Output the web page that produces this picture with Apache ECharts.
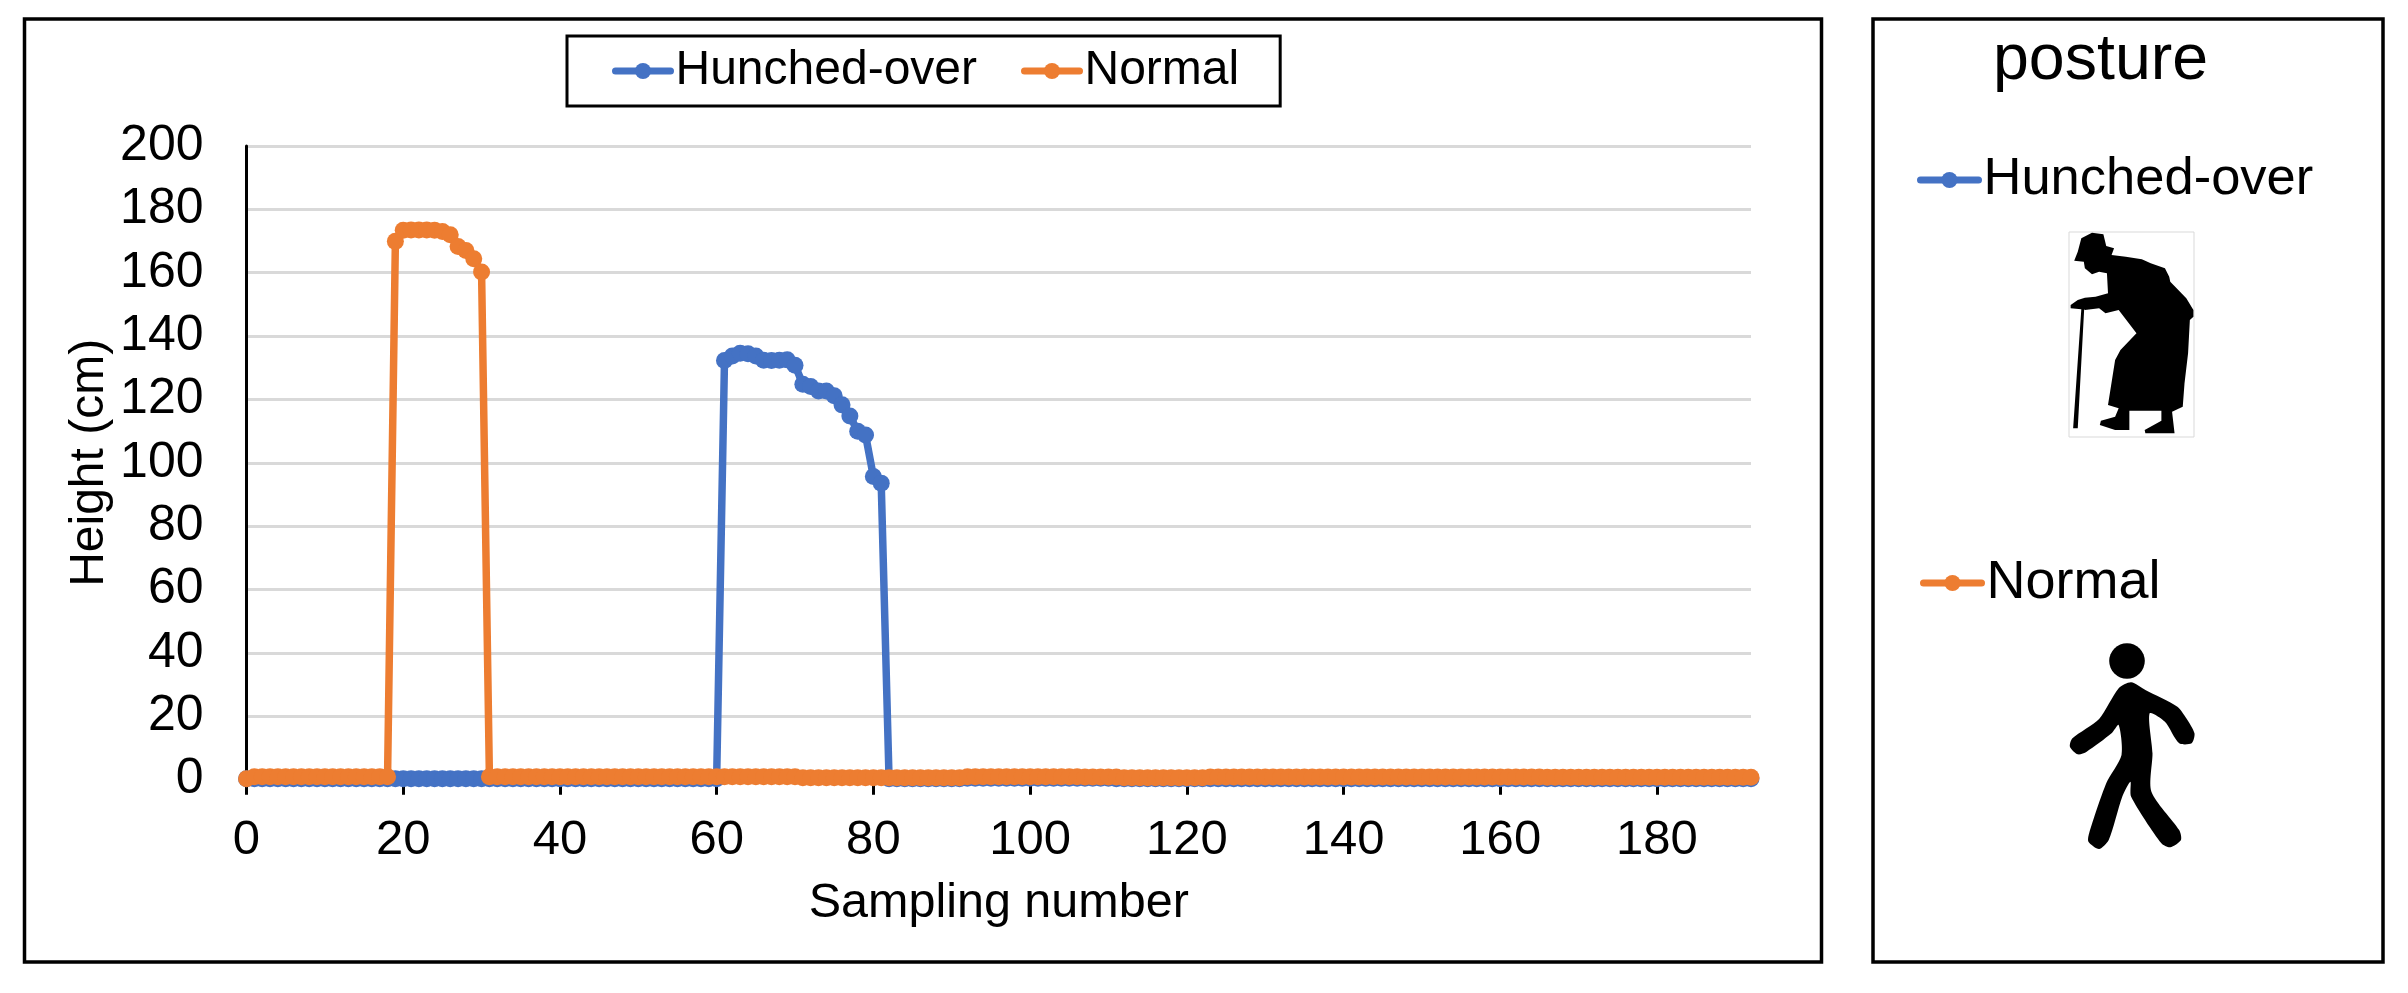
<!DOCTYPE html>
<html>
<head>
<meta charset="utf-8">
<style>html,body{margin:0;padding:0;background:#fff}#c{width:2408px;height:993px}</style>
<script src="https://cdn.jsdelivr.net/npm/echarts@6/dist/echarts.min.js"></script>
</head>
<body>
<div id="c"></div>
<script>
const xTicks = [0,20,40,60,80,100,120,140,160,180];
const yTicks = [0,20,40,60,80,100,120,140,160,180,200];
const seriesNames = ['Hunched-over','Normal'];
const hunchedOver = [
0.3,0.3,0.3,0.3,0.3,0.3,0.3,0.3,0.3,0.3,
0.3,0.3,0.3,0.3,0.3,0.3,0.3,0.3,0.3,0.3,
0.3,0.3,0.3,0.3,0.3,0.3,0.3,0.3,0.3,0.3,
0.3,0.3,0.3,0.3,0.3,0.3,0.3,0.3,0.3,0.3,
0.3,0.3,0.3,0.3,0.3,0.3,0.3,0.3,0.3,0.3,
0.3,0.3,0.3,0.3,0.3,0.3,0.3,0.3,0.3,0.3,
0.3,132.3,133.7,134.6,134.4,133.7,132.4,132.3,132.4,132.5,
130.8,124.8,124.1,122.7,122.7,121.2,118.3,114.8,110.0,108.8,
95.7,93.6,0.3,0.3,0.3,0.3,0.3,0.3,0.3,0.3,
0.3,0.3,0.45,0.45,0.45,0.45,0.45,0.45,0.45,0.45,
0.45,0.45,0.45,0.45,0.45,0.45,0.45,0.45,0.45,0.45,
0.45,0.3,0.3,0.3,0.3,0.3,0.3,0.3,0.3,0.3,
0.3,0.3,0.3,0.3,0.3,0.3,0.3,0.3,0.3,0.3,
0.3,0.3,0.3,0.3,0.3,0.3,0.3,0.3,0.3,0.3,
0.3,0.3,0.3,0.3,0.3,0.3,0.3,0.3,0.3,0.3,
0.3,0.3,0.3,0.3,0.3,0.3,0.3,0.3,0.3,0.3,
0.3,0.3,0.3,0.3,0.3,0.3,0.3,0.3,0.3,0.3,
0.3,0.3,0.3,0.3,0.3,0.3,0.3,0.3,0.3,0.3,
0.3,0.3,0.3,0.3,0.3,0.3,0.3,0.3,0.3,0.3,
0.3,0.3,0.3];
const normal = [
0.3,0.9,0.9,0.9,0.9,0.9,0.9,0.9,0.9,0.9,
0.9,0.9,0.9,0.9,0.9,0.9,0.9,0.9,0.9,169.9,
173.4,173.5,173.5,173.5,173.4,173.0,172.0,168.3,167.0,164.4,
160.2,0.9,0.9,0.9,0.9,0.9,0.9,0.9,0.9,0.9,
0.9,0.9,0.9,0.9,0.9,0.9,0.9,0.9,0.9,0.9,
0.9,0.9,0.9,0.9,0.9,0.9,0.9,0.9,0.9,0.9,
0.9,0.9,0.9,0.9,0.9,0.9,0.9,0.9,0.9,0.9,
0.9,0.6,0.6,0.6,0.6,0.6,0.6,0.6,0.6,0.6,
0.6,0.6,0.6,0.6,0.6,0.6,0.6,0.6,0.6,0.6,
0.6,0.6,0.95,0.95,0.95,0.95,0.95,0.95,0.95,0.95,
0.95,0.95,0.95,0.95,0.95,0.95,0.95,0.85,0.85,0.85,
0.85,0.85,0.6,0.6,0.6,0.6,0.6,0.6,0.6,0.6,
0.6,0.6,0.6,0.85,0.85,0.85,0.85,0.85,0.85,0.85,
0.85,0.85,0.85,0.85,0.85,0.85,0.85,0.85,0.85,0.85,
0.85,0.85,0.85,0.85,0.85,0.85,0.85,0.85,0.85,0.85,
0.85,0.85,0.85,0.85,0.85,0.85,0.85,0.85,0.85,0.85,
0.85,0.85,0.85,0.85,0.85,0.85,0.8,0.8,0.8,0.8,
0.8,0.8,0.8,0.8,0.8,0.8,0.8,0.8,0.8,0.8,
0.8,0.8,0.8,0.8,0.8,0.8,0.8,0.8,0.8,0.8,
0.8,0.8,0.8];

const BLUE = '#4472C4', ORANGE = '#ED7D31', FONT = '"Liberation Sans", Arial, sans-serif';
const chart = echarts.init(document.getElementById('c'), null, {renderer:'canvas', width:2408, height:993});
const pairs = a => a.map((v,i)=>[i,v]);
const mk = (name,data,color,z) => ({
  name, type:'line', data:pairs(data), z,
  showAllSymbol:true, symbol:'circle', symbolSize:17,
  lineStyle:{color,width:7.5,cap:'round',join:'round'},
  itemStyle:{color}, animation:false
});
const legendLine = {width:7,cap:'round'};

const womanPts = [[650,715],[680,698],[712,703],[720,738],[742,745],[735,765],[775,770],[820,778],[845,790],[885,805],[897,830],[900,845],[945,895],[965,930],[965,950],[955,960],[950,1060],[940,1150],[935,1220],[905,1235],[912,1300],[830,1300],[828,1290],[875,1262],[875,1232],[785,1232],[785,1290],[745,1290],[702,1275],[705,1262],[745,1250],[755,1225],[725,1215],[745,1080],[760,1050],[805,1000],[755,930],[718,940],[700,925],[660,930],[658,928],[640,1285],[627,1285],[650,928],[620,925],[620,915],[640,900],[660,893],[690,890],[725,880],[722,820],[700,815],[680,823],[660,805],[657,785],[630,782],[640,755]]
  .map(p=>[1850+p[0]/2.81,p[1]/3]);
const walkerPts = [[790,487],[830,510],[920,560],[945,595],[968,640],[960,670],[925,670],[885,605],[842,580],[850,700],[847,815],[925,930],[930,960],[900,982],[875,970],[790,830],[788,785],[765,830],[727,960],[700,987],[670,965],[672,940],[720,790],[763,705],[755,615],[735,640],[665,695],[640,703],[618,680],[625,655],[700,597],[755,505]]
  .map(p=>[1850+p[0]/2.81,520+p[1]/3]);

chart.setOption({
  backgroundColor:'#fff', animation:false,
  textStyle:{fontFamily:FONT},
  grid:{left:246.5,right:657,top:146,bottom:213.3,containLabel:false},
  xAxis:{type:'value',min:0,max:192,interval:20,
    name:'Sampling number',nameLocation:'middle',nameGap:99,nameMoveOverlap:false,
    nameTextStyle:{fontSize:48.5,color:'#000',fontFamily:FONT},
    axisLine:{show:true,onZero:false,lineStyle:{color:'#000',width:3}},
    axisTick:{show:true,length:15,inside:false,customValues:xTicks,lineStyle:{color:'#000',width:3}},
    axisLabel:{customValues:xTicks,fontSize:49,color:'#000',margin:36,fontFamily:FONT},
    splitLine:{show:false}},
  yAxis:{type:'value',min:0,max:200,interval:20,
    name:'Height (cm)',nameLocation:'middle',nameGap:133,nameMoveOverlap:false,
    nameTextStyle:{fontSize:48,color:'#000',fontFamily:FONT},
    axisLine:{show:true,lineStyle:{color:'#000',width:3}},
    axisTick:{show:false},
    axisLabel:{customValues:yTicks,fontSize:50,color:'#000',margin:43,fontFamily:FONT},
    splitLine:{show:true,lineStyle:{color:'#D9D9D9',width:3}}},
  legend:[
    {data:seriesNames,left:567,top:36,orient:'horizontal',itemWidth:55,itemHeight:20,itemGap:44,
     padding:[11,41,11,45],borderColor:'#000',borderWidth:3,selectedMode:false,lineStyle:legendLine,
     textStyle:{fontSize:48,color:'#000',fontFamily:FONT}},
    {data:[seriesNames[0]],left:1917,top:153.5,padding:0,itemWidth:58,itemHeight:20,selectedMode:false,lineStyle:legendLine,
     textStyle:{fontSize:52.5,color:'#000',fontFamily:FONT}},
    {data:[seriesNames[1]],left:1920,top:556,padding:0,itemWidth:58,itemHeight:20,selectedMode:false,lineStyle:legendLine,
     textStyle:{fontSize:54,color:'#000',fontFamily:FONT}}
  ],
  series:[mk(seriesNames[0],hunchedOver,BLUE,2),mk(seriesNames[1],normal,ORANGE,3)],
  graphic:[
    {type:'rect',shape:{x:24.5,y:19,width:1797,height:943},style:{fill:'none',stroke:'#000',lineWidth:3.5},silent:true,z:0},
    {type:'rect',shape:{x:1873,y:19,width:510,height:943},style:{fill:'none',stroke:'#000',lineWidth:3.5},silent:true,z:0},
    {type:'text',style:{x:1993,y:61,text:'posture',fontSize:64.5,fill:'#000',fontFamily:FONT,textVerticalAlign:'middle'},silent:true},
    {type:'rect',shape:{x:2069,y:232,width:125,height:205},style:{fill:'none',stroke:'#d9d9d9',lineWidth:1},silent:true},
    {type:'polygon',shape:{points:womanPts},style:{fill:'#000'},silent:true},
    {type:'circle',shape:{cx:2127,cy:661,r:17.8},style:{fill:'#000'},silent:true},
    {type:'polygon',shape:{points:walkerPts,smooth:0.25},style:{fill:'#000'},silent:true}
  ]
});
</script>
</body>
</html>
